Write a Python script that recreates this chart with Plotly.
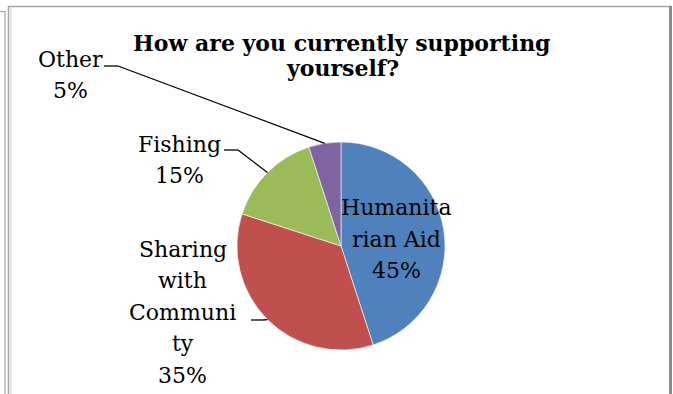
import math
import plotly.graph_objects as go

# Survey answers, in drawing order (clockwise from 12 o'clock)
categories = ["Humanitarian Aid", "Sharing with Community", "Fishing", "Other"]
shares = [45, 35, 15, 5]
colors = ["#4F81BD", "#C0504D", "#9BBB59", "#8064A2"]
# Wrapped label lines as they appear next to each slice
label_lines = [["Humanita", "rian Aid"], ["Sharing", "with", "Communi", "ty"], ["Fishing"], ["Other"]]
title_lines = ["How are you currently supporting", "yourself?"]

W, H = 673, 394
CX, CY, R = 341, 246, 104          # pie centre / radius in pixels
LABEL_SIZE = 22
LINE_GAP = 31.5                    # baseline-to-baseline spacing of label lines


def px(x):
    return x / W


def py(y):
    return 1 - y / H


fig = go.Figure(
    go.Pie(
        labels=categories,
        values=shares,
        sort=False,
        direction="clockwise",
        rotation=0,
        marker=dict(colors=colors, line=dict(color="white", width=0.6)),
        textinfo="none",
        hoverinfo="label+percent",
        showlegend=False,
        domain=dict(x=[px(CX - R), px(CX + R)], y=[py(CY + R), py(CY - R)]),
    )
)

label_font = dict(family="DejaVu Serif", size=LABEL_SIZE, color="black")

# Horizontal centre and first baseline of each label block
label_pos = {
    "Humanitarian Aid": (396, 215),
    "Sharing with Community": (183, 256.5),
    "Fishing": (179, 151.5),
    "Other": (70, 66.5),
}
# Short horizontal ticks that start each leader line: (x0, x1, y)
ticks = {
    "Sharing with Community": (251, 263, 320),
    "Fishing": (224, 238, 150),
    "Other": (104, 118, 66),
}


def text_line(text, x, baseline, font):
    return dict(
        x=px(x), y=py(baseline - 0.33 * font["size"]), xref="paper", yref="paper",
        text=text, showarrow=False, font=font, align="center",
        xanchor="center", yanchor="middle",
    )


annotations = []
shapes = []
total = sum(shares)
cum = 0
for cat, val, lines in zip(categories, shares, label_lines):
    pct = round(100 * val / total)
    mid = (cum + val / 2) / total * 2 * math.pi
    cum += val
    x, base = label_pos[cat]
    for i, ln in enumerate(lines + [f"{pct}%"]):
        annotations.append(text_line(ln, x, base + i * LINE_GAP, label_font))
    if cat in ticks:
        x0, x1, ty = ticks[cat]
        ex = CX + R * math.sin(mid)
        ey = CY - R * math.cos(mid)
        shapes.append(dict(type="line", xref="paper", yref="paper",
                           x0=px(x0), y0=py(ty), x1=px(x1), y1=py(ty),
                           line=dict(color="black", width=1.3)))
        shapes.append(dict(type="line", xref="paper", yref="paper",
                           x0=px(x1), y0=py(ty), x1=px(ex), y1=py(ey),
                           line=dict(color="black", width=1.3)))

title_font = dict(family="DejaVu Serif", size=22, color="black")
for i, ln in enumerate(title_lines):
    annotations.append(text_line(f"<b>{ln}</b>", 342, 50 + i * 25, title_font))

# Chart frame (double grey rule on the left, heavier on the right)
frame = "#A6A6A6"
shapes += [
    dict(type="line", xref="paper", yref="paper", x0=px(8), y0=py(6.5), x1=px(671), y1=py(6.5),
         line=dict(color=frame, width=1.5)),
    dict(type="line", xref="paper", yref="paper", x0=px(8.5), y0=py(6), x1=px(8.5), y1=py(400),
         line=dict(color=frame, width=1.5)),
    dict(type="line", xref="paper", yref="paper", x0=px(11), y0=py(8), x1=px(11), y1=py(400),
         line=dict(color="#C8C8C8", width=1)),
    dict(type="line", xref="paper", yref="paper", x0=px(670.5), y0=py(6), x1=px(670.5), y1=py(400),
         line=dict(color="#8C8C8C", width=3)),
    dict(type="line", xref="paper", yref="paper", x0=px(0), y0=py(11.5), x1=px(5.5), y1=py(11.5),
         line=dict(color=frame, width=1.2)),
    dict(type="line", xref="paper", yref="paper", x0=px(5), y0=py(11), x1=px(5), y1=py(400),
         line=dict(color=frame, width=1.2)),
]

fig.update_layout(
    width=W, height=H,
    margin=dict(l=0, r=0, t=0, b=0),
    paper_bgcolor="white", plot_bgcolor="white",
    annotations=annotations, shapes=shapes,
)

fig.write_html("out.html")
